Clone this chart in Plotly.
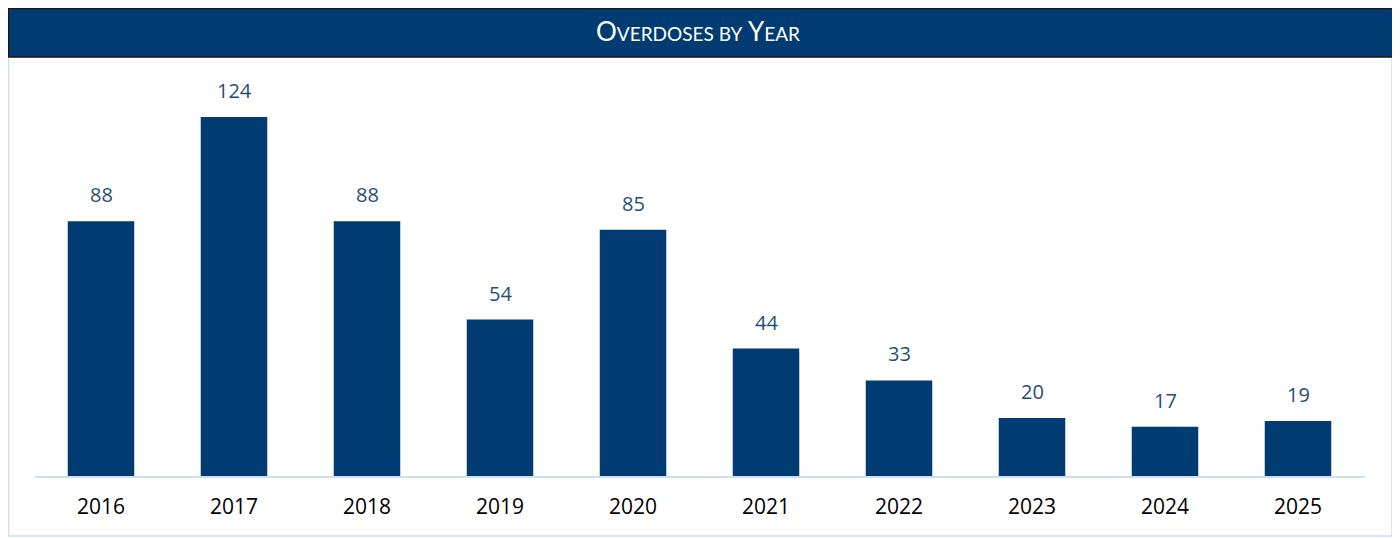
import plotly.graph_objects as go

years = ['2016', '2017', '2018', '2019', '2020', '2021', '2022', '2023', '2024', '2025']
overdoses = [88, 124, 88, 54, 85, 44, 33, 20, 17, 19]

# the page body adds an 8px margin, so the figure is drawn 8px smaller and shifted
OFF = 8
W, H = 1400 - OFF, 538 - OFF
navy = '#003B71'
light_blue = '#C9E0F5'
font_family = 'Open Sans, Noto Sans, sans-serif'


def px_x(v):
    return max(v - OFF, 0.5) / W


def px_y(v):
    return 1 - max(v - OFF, 0.5) / H


fig = go.Figure()
fig.add_trace(go.Bar(x=years, y=overdoses, marker=dict(color=navy, line=dict(width=0)),
                     hoverinfo='x+y'))

# value labels above each bar (category axis -> serial index for annotations)
for i, val in enumerate(overdoses):
    fig.add_annotation(x=i, y=val, xref='x', yref='y', text=str(val), showarrow=False,
                       yanchor='bottom', yshift=11,
                       font=dict(family=font_family, size=20, color='#1F4E79'))

# outer frame and title bar
fig.add_shape(type='rect', xref='paper', yref='paper', x0=px_x(4), x1=px_x(1392), y0=px_y(536), y1=px_y(57),
              line=dict(color=light_blue, width=1.5), fillcolor='rgba(0,0,0,0)', layer='below')
fig.add_shape(type='rect', xref='paper', yref='paper', x0=px_x(2), x1=px_x(1394), y0=px_y(57), y1=px_y(3),
              line=dict(color='#1a1a1a', width=1.5), fillcolor=navy, layer='below')
fig.add_annotation(xref='paper', yref='paper', x=px_x(698), y=px_y(31), showarrow=False,
                   yanchor='middle',
                   text="O<span style='font-size:19px'>VERDOSES BY</span> Y<span style='font-size:19px'>EAR</span>",
                   font=dict(family='Lato, Open Sans, sans-serif', size=26, color='white', weight='normal'))

fig.update_layout(
    width=W, height=H,
    margin=dict(l=0, r=0, t=0, b=0, autoexpand=False),
    paper_bgcolor='white', plot_bgcolor='white',
    bargap=0.5, showlegend=False,
    xaxis=dict(type='category', range=[-0.5, len(years) - 0.5],
               domain=[px_x(34.5), px_x(1364.5)], showline=True, linecolor=light_blue, linewidth=2,
               ticks='', showgrid=False, automargin=False,
               tickfont=dict(family=font_family, size=21, color='black'),
               ticklabelstandoff=11),
    yaxis=dict(domain=[px_y(476), px_y(70)], range=[0, 140.2], visible=False, showgrid=False, zeroline=False,
               automargin=False),
)

fig.write_html('out.html')
